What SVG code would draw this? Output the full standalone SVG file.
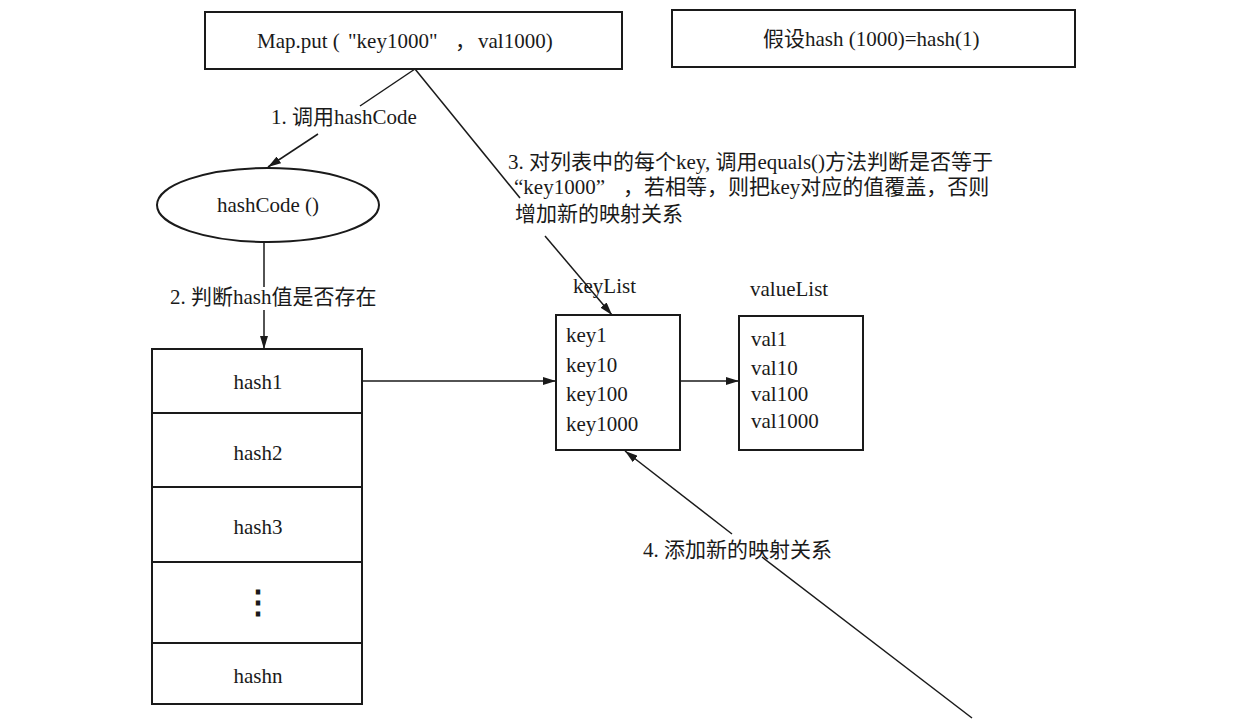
<svg xmlns="http://www.w3.org/2000/svg" width="1242" height="722" viewBox="0 0 1242 722">
<defs>
<style>
.box{fill:#fff;stroke:#1a1a1a;stroke-width:2}
.ln{fill:none;stroke:#1a1a1a;stroke-width:1.5}
.sep{stroke:#1a1a1a;stroke-width:2}
.t{font-family:"Liberation Serif","Noto Sans CJK SC",serif;font-size:21px;fill:#1a1a1a}
.c{text-anchor:middle}
</style>
<marker id="arr" viewBox="0 0 13 8" refX="13" refY="4" markerWidth="13" markerHeight="8" orient="auto" markerUnits="userSpaceOnUse">
<path d="M0,0 L13,4 L0,8 z" fill="#1a1a1a"/>
</marker>
</defs>
<rect width="1242" height="722" fill="#fff"/>

<g id="connectors">
<line class="ln" x1="415" y1="69" x2="360" y2="106"/>
<line class="ln" x1="318" y1="134" x2="268" y2="167" marker-end="url(#arr)"/>
<text class="t" x="271" y="124">1. 调用hashCode</text>

<line class="ln" x1="264" y1="242" x2="264" y2="287"/>
<line class="ln" x1="264" y1="310" x2="264" y2="349" marker-end="url(#arr)"/>
<text class="t" x="170" y="304">2. 判断hash值是否存在</text>

<line class="ln" x1="415" y1="69" x2="520" y2="198"/>
<line class="ln" x1="545" y1="236" x2="612" y2="315" marker-end="url(#arr)"/>
<text class="t" x="508" y="169">3. 对列表中的每个key, 调用equals()方法判断是否等于</text>
<text class="t" y="194"><tspan x="514">“key1000”</tspan><tspan x="623">，若相等，则把key对应的值覆盖，否则</tspan></text>
<text class="t" x="515" y="221">增加新的映射关系</text>

<line class="ln" x1="362" y1="381" x2="556" y2="381" marker-end="url(#arr)"/>
<line class="ln" x1="680" y1="381" x2="739" y2="381" marker-end="url(#arr)"/>

<line class="ln" x1="972" y1="718" x2="762" y2="557"/>
<line class="ln" x1="732" y1="534" x2="625" y2="451" marker-end="url(#arr)"/>
<text class="t" x="643" y="557">4. 添加新的映射关系</text>
</g>

<g id="node-put">
<rect class="box" x="205" y="12" width="417" height="57"/>
<text class="t" y="48"><tspan x="257">Map.put (</tspan><tspan x="348">"key1000"</tspan><tspan x="455">，</tspan><tspan x="478">val1000)</tspan></text>
</g>

<g id="node-assume">
<rect class="box" x="672" y="10" width="403" height="57"/>
<text class="t" x="763" y="46">假设hash (1000)=hash(1)</text>
</g>

<g id="node-hashcode">
<ellipse class="box" cx="268" cy="205" rx="111" ry="37"/>
<text class="t c" x="268" y="212">hashCode ()</text>
</g>

<g id="node-table">
<rect class="box" x="152" y="349" width="210" height="355"/>
<line class="sep" x1="152" y1="413" x2="362" y2="413"/>
<line class="sep" x1="152" y1="487" x2="362" y2="487"/>
<line class="sep" x1="152" y1="562" x2="362" y2="562"/>
<line class="sep" x1="152" y1="643" x2="362" y2="643"/>
<text class="t c" x="258" y="389">hash1</text>
<text class="t c" x="258" y="460">hash2</text>
<text class="t c" x="258" y="534">hash3</text>
<text class="t c" x="258" y="613" style="font-family:'DejaVu Serif',serif;font-size:32px;font-weight:bold">⋮</text>
<text class="t c" x="258" y="683">hashn</text>
</g>

<g id="node-keylist">
<text class="t" x="573" y="293">keyList</text>
<rect class="box" x="556" y="315" width="124" height="135"/>
<text class="t" x="566" y="342">key1</text>
<text class="t" x="566" y="372">key10</text>
<text class="t" x="566" y="401">key100</text>
<text class="t" x="566" y="431">key1000</text>
</g>

<g id="node-valuelist">
<text class="t" x="750" y="296">valueList</text>
<rect class="box" x="739" y="316" width="124" height="134"/>
<text class="t" x="751" y="346">val1</text>
<text class="t" x="751" y="375">val10</text>
<text class="t" x="751" y="401">val100</text>
<text class="t" x="751" y="428">val1000</text>
</g>
</svg>
